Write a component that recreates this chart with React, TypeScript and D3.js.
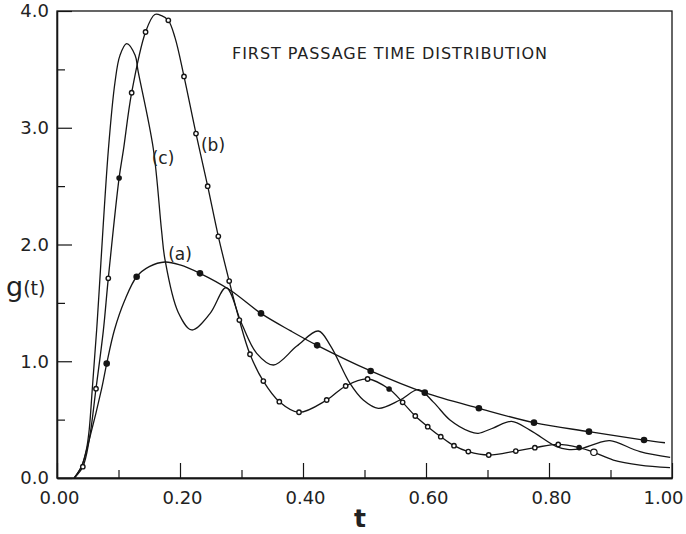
import React, { useEffect, useRef } from 'react';
import * as d3 from 'd3';

type Pt = [number, number];

// curve (a) – the slow one, filled dots
const curveA: Pt[] = [
  [0.028, 0], [0.04, 0.1], [0.0525, 0.33], [0.0726, 0.765], [0.0808, 0.98],
  [0.0935, 1.27], [0.11, 1.52], [0.1295, 1.724], [0.15, 1.81], [0.1756, 1.85],
  [0.2, 1.825], [0.2325, 1.753], [0.2813, 1.61], [0.3317, 1.41], [0.38, 1.26],
  [0.423, 1.136], [0.51, 0.917], [0.598, 0.731], [0.686, 0.597], [0.7756, 0.474],
  [0.865, 0.397], [0.9545, 0.325], [0.9886, 0.302],
];

// curve (b) – open circles
const curveB: Pt[] = [
  [0.028, 0], [0.042, 0.097], [0.0525, 0.33], [0.0634, 0.765], [0.0753, 1.26],
  [0.0834, 1.71], [0.101, 2.57], [0.108, 2.81], [0.1214, 3.3], [0.144, 3.82],
  [0.159, 3.97], [0.17, 3.96], [0.181, 3.92], [0.192, 3.77], [0.2065, 3.44],
  [0.226, 2.95], [0.245, 2.5], [0.2623, 2.07], [0.28, 1.687], [0.2965, 1.353],
  [0.3138, 1.06], [0.3355, 0.83], [0.3615, 0.654], [0.3935, 0.563], [0.4385, 0.668],
  [0.4694, 0.788], [0.505, 0.848], [0.54, 0.762], [0.562, 0.648], [0.5826, 0.531],
  [0.6028, 0.44], [0.624, 0.354], [0.6455, 0.277], [0.6688, 0.226], [0.702, 0.197],
  [0.746, 0.231], [0.777, 0.26], [0.815, 0.288], [0.849, 0.26], [0.873, 0.22],
  [0.9046, 0.154], [0.948, 0.111], [0.9967, 0.088],
];

// curve (c) – oscillating, no markers
const curveC: Pt[] = [
  [0.028, 0], [0.04, 0.1], [0.048, 0.25], [0.0525, 0.42], [0.0574, 0.765],
  [0.0645, 1.27], [0.0835, 2.81], [0.0943, 3.39], [0.1024, 3.62], [0.1133, 3.72],
  [0.127, 3.62], [0.132, 3.48], [0.1566, 2.82], [0.17, 2.12], [0.1756, 1.87],
  [0.197, 1.42], [0.219, 1.268], [0.249, 1.41], [0.275, 1.63],
  [0.3, 1.325], [0.3247, 1.068], [0.352, 0.968], [0.39, 1.13], [0.425, 1.259],
  [0.445, 1.13], [0.4764, 0.81], [0.498, 0.668], [0.5225, 0.597], [0.5577, 0.668],
  [0.588, 0.756], [0.612, 0.65], [0.639, 0.497], [0.6715, 0.397], [0.685, 0.383],
  [0.71, 0.43], [0.739, 0.485], [0.769, 0.41], [0.8125, 0.268], [0.83, 0.245],
  [0.85, 0.25], [0.878, 0.297], [0.899, 0.32], [0.948, 0.226], [0.997, 0.177],
];

const dotsA: Pt[] = [
  [0.0808, 0.98], [0.1295, 1.724], [0.2325, 1.753], [0.3317, 1.41], [0.423, 1.136],
  [0.51, 0.917], [0.598, 0.731], [0.686, 0.597], [0.7756, 0.474], [0.865, 0.397],
  [0.9545, 0.325],
];

const openB: Pt[] = [
  [0.042, 0.097], [0.0634, 0.765], [0.0834, 1.71], [0.1214, 3.3], [0.144, 3.82],
  [0.181, 3.92], [0.2065, 3.44], [0.226, 2.95], [0.245, 2.5], [0.2623, 2.07],
  [0.28, 1.687], [0.2965, 1.353], [0.3138, 1.06], [0.3355, 0.83], [0.3615, 0.654],
  [0.3935, 0.563], [0.4385, 0.668], [0.4694, 0.788], [0.505, 0.848], [0.562, 0.648],
  [0.5826, 0.531], [0.6028, 0.44], [0.624, 0.354], [0.6455, 0.277], [0.6688, 0.226],
  [0.702, 0.197], [0.746, 0.231], [0.777, 0.26], [0.815, 0.288],
];
const filledB: Pt[] = [[0.101, 2.57], [0.54, 0.762], [0.849, 0.26]];
const bigOpenB: Pt[] = [[0.873, 0.22]];

const yMajor = [0, 1, 2, 3, 4];
const yMinor = [0.5, 1.5, 2.5, 3.5];
const xMajor = [0, 0.2, 0.4, 0.6, 0.8, 1.0];
const xMinor = [0.1, 0.3, 0.5, 0.7, 0.9];

const title = 'FIRST PASSAGE TIME DISTRIBUTION';

const App = () => {
  const svgRef = useRef<SVGSVGElement>(null);

  useEffect(() => {
    const W = 686;
    const H = 534;
    const left = 57, right = 672, top = 11, bottom = 478;
    const ink = '#151515';
    const font = '"DejaVu Sans", "Liberation Sans", sans-serif';

    const svg = d3.select(svgRef.current).attr('width', W).attr('height', H);
    svg.selectAll('*').remove();

    svg.append('rect').attr('width', W).attr('height', H).attr('fill', '#fff');

    const x = d3.scaleLinear().domain([0, 1]).range([left, right]);
    const y = d3.scaleLinear().domain([0, 4]).range([bottom, top]);

    // frame
    svg.append('rect')
      .attr('x', left).attr('y', top)
      .attr('width', right - left).attr('height', bottom - top)
      .attr('fill', 'none').attr('stroke', ink).attr('stroke-width', 1.3);

    // y axis, ticks pointing in
    const yAx = svg.append('g').attr('transform', `translate(${left},0)`)
      .call(d3.axisLeft(y).tickValues(yMajor).tickSize(-15).tickSizeOuter(0)
        .tickPadding(8).tickFormat(d3.format('.1f')));
    svg.append('g').attr('transform', `translate(${left},0)`)
      .call(d3.axisLeft(y).tickValues(yMinor).tickSize(-8).tickSizeOuter(0)
        .tickFormat(() => ''));

    const xAx = svg.append('g').attr('transform', `translate(0,${bottom})`)
      .call(d3.axisBottom(x).tickValues(xMajor).tickSize(-15).tickSizeOuter(0)
        .tickPadding(13).tickFormat(d3.format('.2f')));
    svg.append('g').attr('transform', `translate(0,${bottom})`)
      .call(d3.axisBottom(x).tickValues(xMinor).tickSize(-8).tickSizeOuter(0)
        .tickFormat(() => ''));

    svg.selectAll('.domain').attr('stroke', ink).attr('stroke-width', 1.3);
    svg.selectAll('.tick line').attr('stroke', ink).attr('stroke-width', 1.2);
    [yAx, xAx].forEach(g => g.selectAll('text')
      .attr('font-family', font).attr('font-size', 18).attr('fill', '#222'));
    // keep the last label inside the page
    xAx.selectAll<SVGTextElement, number>('.tick text')
      .attr('dx', d => (d === 1 ? -9 : 2));

    // curves
    const line = d3.line<Pt>()
      .x(d => x(d[0]))
      .y(d => y(d[1]))
      .curve(d3.curveCatmullRom.alpha(0.5));

    [curveA, curveB, curveC].forEach(c => {
      svg.append('path').attr('d', line(c))
        .attr('fill', 'none').attr('stroke', ink).attr('stroke-width', 1.3);
    });

    // markers
    svg.selectAll('.dotA').data(dotsA).enter().append('circle')
      .attr('cx', d => x(d[0])).attr('cy', d => y(d[1])).attr('r', 3.3)
      .attr('fill', ink);
    svg.selectAll('.fillB').data(filledB).enter().append('circle')
      .attr('cx', d => x(d[0])).attr('cy', d => y(d[1])).attr('r', 2.8)
      .attr('fill', ink);
    svg.selectAll('.openB').data(openB).enter().append('circle')
      .attr('cx', d => x(d[0])).attr('cy', d => y(d[1])).attr('r', 2.2)
      .attr('fill', '#fff').attr('stroke', ink).attr('stroke-width', 1.4);
    svg.selectAll('.bigB').data(bigOpenB).enter().append('circle')
      .attr('cx', d => x(d[0])).attr('cy', d => y(d[1])).attr('r', 3.2)
      .attr('fill', '#fff').attr('stroke', ink).attr('stroke-width', 1.2);

    // curve labels
    const lab = (t: string, px: number, py: number) =>
      svg.append('text').attr('x', px).attr('y', py)
        .attr('text-anchor', 'middle')
        .attr('font-family', font).attr('font-size', 17).attr('fill', '#222')
        .text(t);
    lab('(c)', 163, 164);
    lab('(b)', 213, 151);
    lab('(a)', 180, 260);

    // title
    svg.append('text').attr('x', 232).attr('y', 59)
      .attr('font-family', font).attr('font-size', 16).attr('fill', '#222')
      .attr('textLength', 315).attr('lengthAdjust', 'spacing')
      .text(title);

    // axis titles
    const gl = svg.append('text').attr('x', 6).attr('y', 296)
      .attr('font-family', font).attr('fill', '#222');
    gl.append('tspan').attr('font-size', 27).text('g');
    gl.append('tspan').attr('font-size', 19).attr('dy', -1).text('(t)');

    svg.append('text').attr('x', 360).attr('y', 527)
      .attr('text-anchor', 'middle')
      .attr('font-family', font).attr('font-size', 25).attr('font-weight', 'bold')
      .attr('fill', '#222')
      .text('t');
  }, []);

  return (
    <svg ref={svgRef} style={{ position: 'absolute', left: 0, top: 0, display: 'block' }} />
  );
};

export default App;
